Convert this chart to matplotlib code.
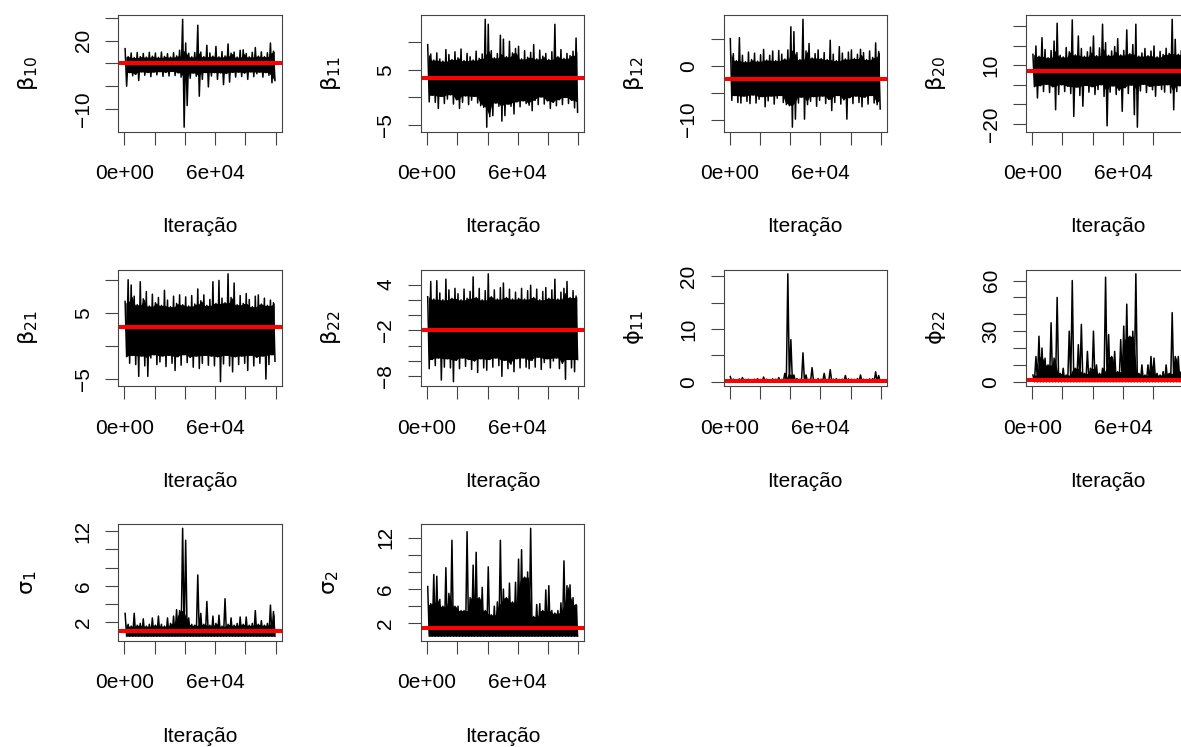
import matplotlib
matplotlib.use("Agg")
import matplotlib.pyplot as plt
import numpy as np

plt.rcParams['font.family'] = ['Liberation Sans', 'DejaVu Sans']
plt.rcParams['mathtext.fontset'] = 'dejavusans'
plt.rcParams['font.size'] = 15

# trace envelopes: 50 blocks of 2000 iterations each,
# upper and lower extent of the chain in every block
n_iter = 100000
n_bins = 50

beta10_hi = [16.5, 13.0, 14.6, 12.6, 14.8, 13.0, 14.4, 12.8, 14.9, 13.2,
             14.6, 12.7, 15.0, 13.1, 14.3, 12.8, 14.7, 13.3, 15.8, 29.4,
             19.0, 14.5, 12.9, 14.8, 26.8, 15.0, 13.0, 18.0, 14.6, 13.2,
             17.5, 12.9, 15.2, 13.3, 18.6, 14.5, 15.0, 12.8, 15.8, 16.0,
             14.4, 12.9, 14.9, 17.0, 13.2, 15.1, 13.0, 14.7, 19.0, 15.4]
beta10_lo = [0.0, 6.0, 4.6, 5.2, 2.5, 6.3, 4.8, 6.0, 4.2, 6.2,
             5.0, 6.4, 4.3, 6.1, 4.5, 6.5, 4.7, 5.9, 4.0, -18.0,
             -8.5, 3.5, 5.8, 4.4, -4.4, 3.0, 6.0, -0.3, 4.5, 6.0,
             3.0, 5.9, 0.7, 5.6, 1.8, 6.1, 4.0, 6.2, 4.3, 5.8,
             3.0, 6.3, 4.2, 5.5, 6.2, 4.0, 6.0, 4.8, 1.5, 2.5]

beta11_hi = [9.6, 7.9, 6.8, 8.1, 7.0, 6.6, 8.7, 7.8, 6.9, 8.3,
             7.2, 8.8, 6.7, 8.0, 7.4, 6.8, 8.4, 7.1, 7.9, 14.2,
             13.3, 8.5, 7.2, 8.0, 11.3, 10.6, 7.4, 10.2, 8.1, 8.9,
             9.3, 7.0, 8.5, 7.3, 8.2, 9.6, 7.0, 8.6, 7.5, 8.0,
             6.9, 8.3, 13.3, 7.4, 8.7, 7.1, 8.0, 7.6, 8.4, 10.8]
beta11_lo = [-0.8, 0.4, -0.9, -2.0, 0.2, -1.1, -0.3, 0.5, -1.2, -0.4,
             -2.0, -0.9, 0.3, -1.3, -0.5, 0.2, -1.0, -1.5, -1.8, -5.4,
             -3.5, -3.3, -1.0, -1.6, -4.3, -3.3, -1.2, -1.6, -3.0, -0.8,
             -1.7, -0.6, -1.1, -1.4, -2.4, -0.5, -1.3, 0.1, -1.2, -0.6,
             -2.0, -0.9, -1.5, -0.4, -1.3, 0.0, -1.1, -0.5, -1.9, -2.7]

beta12_hi = [5.1, 2.3, 1.0, 5.3, 2.0, 0.8, 2.6, 1.2, 2.4, 0.9,
             2.1, 3.1, 1.1, 2.0, 2.8, 1.0, 2.9, 2.2, 1.3, 3.0,
             7.3, 6.4, 2.5, 1.2, 8.7, 2.8, 4.2, 1.5, 2.3, 3.0,
             1.4, 2.5, 1.2, 4.8, 2.2, 1.0, 3.6, 2.4, 1.3, 2.6,
             3.0, 1.4, 2.2, 3.1, 2.5, 1.2, 2.8, 1.6, 4.3, 2.7]
beta12_lo = [-6.4, -5.5, -6.8, -6.9, -5.6, -6.6, -7.0, -5.4, -6.9, -6.2,
             -5.7, -7.6, -6.5, -5.6, -7.1, -6.0, -5.5, -6.8, -7.2, -7.4,
             -11.4, -9.9, -6.9, -5.8, -9.9, -7.2, -6.6, -5.7, -7.5, -6.4,
             -5.6, -7.0, -6.2, -8.3, -6.8, -5.5, -7.1, -6.3, -9.9, -5.9,
             -7.0, -5.6, -6.8, -7.6, -5.8, -7.1, -5.5, -6.9, -7.2, -8.0]

beta20_hi = [15.5, 19.8, 14.5, 24.0, 18.0, 13.8, 17.5, 22.3, 31.4, 15.0,
             14.2, 19.0, 16.8, 33.1, 15.2, 24.9, 18.5, 14.5, 16.8, 19.2,
             24.9, 14.8, 18.8, 30.9, 21.5, 15.0, 17.2, 19.5, 23.5, 15.2,
             17.5, 28.0, 15.8, 20.5, 30.9, 14.6, 16.2, 18.5, 14.8, 17.2,
             19.8, 14.2, 17.0, 15.4, 18.6, 16.0, 33.4, 23.2, 15.5, 17.5]
beta20_lo = [-1.0, -6.8, -0.5, -3.5, 0.2, -4.0, -1.0, -12.8, -5.0, 0.0,
             -3.5, -0.8, -4.5, -16.2, -1.2, -5.5, -11.0, -0.4, -3.8, -1.0,
             -5.0, -2.5, 0.0, -6.0, -21.0, -3.8, -0.6, -5.0, -2.8, -13.6,
             -1.5, -4.5, -0.2, -15.3, -21.7, -3.2, 0.2, -4.0, -0.8, -2.6,
             -5.9, -0.3, -2.5, -3.8, 0.0, -4.2, -12.8, -3.5, -0.5, -2.4]

beta21_hi = [6.8, 10.1, 9.3, 7.6, 6.3, 9.8, 7.2, 8.3, 6.1, 7.9,
             6.6, 7.4, 6.2, 8.5, 7.0, 6.0, 7.6, 6.5, 7.8, 6.3,
             7.5, 6.1, 7.7, 6.4, 8.7, 6.9, 7.8, 6.2, 7.1, 9.8,
             6.5, 10.0, 7.3, 6.6, 11.0, 7.4, 9.6, 6.3, 7.7, 6.5,
             8.0, 7.1, 6.0, 7.6, 7.8, 6.4, 7.3, 6.2, 7.0, 6.6]
beta21_lo = [-1.6, -2.6, -1.4, -2.8, -4.6, -1.5, -3.0, -4.6, -1.8, -1.3,
             -2.8, -2.4, -1.5, -3.1, -1.4, -2.6, -3.7, -1.6, -2.9, -1.3,
             -2.5, -1.7, -3.2, -1.5, -3.4, -2.6, -1.4, -2.9, -1.5, -3.0,
             -1.6, -5.4, -2.7, -1.4, -3.0, -3.9, -1.6, -2.8, -1.5, -2.6,
             -3.7, -1.4, -3.0, -1.7, -2.6, -1.5, -5.0, -2.8, -1.3, -2.3]

beta22_hi = [2.4, 4.4, 2.1, 4.5, 2.9, 2.0, 4.7, 3.3, 2.2, 3.5,
             2.8, 2.0, 3.4, 2.2, 3.1, 5.0, 2.3, 3.5, 2.0, 3.2,
             5.4, 2.4, 3.3, 2.1, 3.6, 4.2, 2.3, 3.4, 2.1, 3.0,
             2.2, 3.5, 2.1, 3.2, 3.9, 2.3, 3.4, 2.0, 3.1, 3.6,
             2.2, 3.3, 4.7, 2.1, 3.0, 3.5, 4.4, 2.3, 3.2, 2.5]
beta22_lo = [-7.0, -5.8, -6.6, -5.6, -8.5, -6.8, -5.7, -6.9, -8.7, -5.9,
             -7.0, -5.6, -6.7, -5.8, -7.1, -6.0, -7.5, -5.7, -6.9, -7.2,
             -5.8, -6.8, -5.6, -6.6, -8.0, -5.9, -7.0, -6.4, -7.4, -5.7,
             -6.9, -5.6, -6.8, -7.0, -5.9, -6.8, -5.5, -7.1, -6.2, -5.7,
             -6.9, -6.0, -5.6, -7.0, -6.3, -8.4, -5.8, -6.9, -7.4, -5.8]

phi11_hi = [1.0, 0.5, 0.4, 0.55, 0.8, 0.45, 0.5, 0.4, 0.5, 0.6,
            0.45, 0.9, 0.5, 0.4, 0.55, 0.5, 0.8, 0.45, 1.6, 20.5,
            8.0, 1.3, 0.6, 0.5, 5.5, 1.3, 0.5, 2.7, 0.45, 0.6,
            0.5, 1.6, 0.45, 2.3, 0.5, 0.6, 0.45, 0.5, 1.2, 0.55,
            0.5, 0.45, 0.6, 1.3, 0.5, 0.45, 0.55, 0.6, 1.9, 1.2]
phi11_lo = [0.02] * 50

phi22_hi = [4, 15, 27, 20, 14, 10, 35, 14, 50, 5,
            8, 4, 30, 60, 8, 22, 34, 5, 18, 8,
            30, 10, 5, 8, 62, 28, 15, 18, 6, 25,
            33, 46, 27, 30, 64, 5, 10, 4, 10, 15,
            14, 5, 4, 6, 10, 5, 41, 15, 15, 6]
phi22_lo = [0.05] * 50

sigma1_hi = [3.0, 1.8, 1.6, 3.0, 1.7, 1.9, 2.4, 1.6, 1.8, 2.5,
             1.7, 2.7, 1.8, 1.6, 2.5, 1.9, 2.7, 3.4, 3.3, 12.3,
             11.0, 2.5, 1.8, 1.7, 7.2, 3.0, 1.8, 4.3, 1.7, 2.7,
             1.9, 2.8, 1.6, 4.6, 1.8, 2.5, 1.7, 1.9, 2.6, 1.8,
             2.6, 1.7, 1.9, 3.3, 1.8, 2.2, 1.7, 1.9, 3.9, 3.2]
sigma1_lo = [0.5] * 50

sigma2_hi = [6.3, 4.3, 7.7, 7.5, 4.8, 4.0, 8.5, 5.5, 11.7, 4.0,
             4.0, 3.5, 3.5, 12.7, 5.0, 8.8, 10.3, 5.0, 6.2, 3.5,
             8.6, 3.0, 4.0, 4.5, 11.7, 6.0, 5.0, 6.7, 4.5, 6.8,
             9.5, 10.6, 7.4, 8.0, 13.1, 2.8, 4.2, 4.3, 3.5, 5.9,
             6.4, 3.5, 3.2, 3.5, 4.4, 9.3, 6.4, 6.5, 5.0, 4.2]
sigma2_lo = [0.5] * 50

# posterior means (red lines)
means = [10.0, 3.47, -2.4, 7.1, 2.9, -2.0, 0.13, 0.8, 1.02, 1.5]

names = [r'$\mathrm{\beta}_{10}$', r'$\mathrm{\beta}_{11}$', r'$\mathrm{\beta}_{12}$',
         r'$\mathrm{\beta}_{20}$', r'$\mathrm{\beta}_{21}$', r'$\mathrm{\beta}_{22}$',
         r'$\mathrm{\phi}_{11}$', r'$\mathrm{\phi}_{22}$',
         r'$\mathrm{\sigma}_{1}$', r'$\mathrm{\sigma}_{2}$']
his = [beta10_hi, beta11_hi, beta12_hi, beta20_hi, beta21_hi, beta22_hi,
       phi11_hi, phi22_hi, sigma1_hi, sigma2_hi]
los = [beta10_lo, beta11_lo, beta12_lo, beta20_lo, beta21_lo, beta22_lo,
       phi11_lo, phi22_lo, sigma1_lo, sigma2_lo]

# y ticks and which of them carry a label (R drops overlapping ones)
yticks = [[-10, 0, 10, 20, 30], [-5, 0, 5, 10], [-10, -5, 0, 5],
          [-20, -10, 0, 10, 20, 30], [-5, 0, 5, 10], [-8, -6, -4, -2, 0, 2, 4],
          [0, 5, 10, 15, 20], [0, 10, 20, 30, 40, 50, 60],
          [2, 4, 6, 8, 10, 12], [2, 4, 6, 8, 10, 12]]
ylabeled = [[-10, 20], [-5, 5], [-10, 0], [-20, 10], [-5, 5], [-8, -2, 4],
            [0, 10, 20], [0, 30, 60], [2, 6, 12], [2, 6, 12]]

xticks = [0, 20000, 40000, 60000, 80000, 100000]
xticklabels = ['0e+00', '', '', '6e+04', '', '']

W, H = 1181, 747
fig = plt.figure(figsize=(W / 100, H / 100), dpi=100)

box_w, box_h = 163.5, 116.5
axcol = '#444444'

for k in range(10):
    row, col = k // 4, k % 4
    left = 118.3 + col * 302.6
    top = 15 + row * 254.5
    ax = fig.add_axes([left / W, 1 - (top + box_h) / H, box_w / W, box_h / H])

    hi = np.array(his[k], dtype=float)
    lo = np.array(los[k], dtype=float)
    step = n_iter / n_bins
    xc = (np.arange(n_bins) + 0.5) * step

    # solid core of the chain: smallest neighbouring extent
    hi_core = np.minimum(np.minimum(hi, np.roll(hi, 1)), np.roll(hi, -1))
    lo_core = np.maximum(np.maximum(lo, np.roll(lo, 1)), np.roll(lo, -1))
    ax.fill_between(xc, lo_core, hi_core, color='black', lw=0)

    # zigzag of block extremes
    x = np.column_stack([xc - 0.25 * step, xc + 0.25 * step]).ravel()
    y = np.column_stack([hi, lo]).ravel()
    ax.plot(x, y, color='black', lw=1.1)
    ax.axhline(means[k], color='red', lw=2.9)

    # R style 4% padding
    ax.set_xlim(1 - 0.04 * (n_iter - 1), n_iter + 0.04 * (n_iter - 1))
    ymin, ymax = lo.min(), hi.max()
    pad = 0.04 * (ymax - ymin)
    ax.set_ylim(ymin - pad, ymax + pad)

    ax.set_xticks(xticks)
    ax.set_xticklabels(xticklabels)
    ax.set_yticks(yticks[k])
    ax.set_yticklabels([str(t).replace('-', '\u2212') if t in ylabeled[k] else ''
                        for t in yticks[k]], rotation=90, va='center')
    ax.tick_params(axis='both', length=9.4, width=0.8, color=axcol)
    ax.tick_params(axis='x', pad=14)
    ax.tick_params(axis='y', pad=9)
    for s in ax.spines.values():
        s.set_color(axcol)
        s.set_linewidth(0.8)

    fig.text((left - 90) / W, 1 - (top + box_h / 2) / H, names[k],
             rotation=90, ha='center', va='center', fontsize=16)
    fig.text((left + box_w / 2) / W, 1 - (top + box_h + 101) / H, 'Iteração',
             ha='center', va='baseline', fontsize=15)

fig.savefig('out.png', dpi=100)
